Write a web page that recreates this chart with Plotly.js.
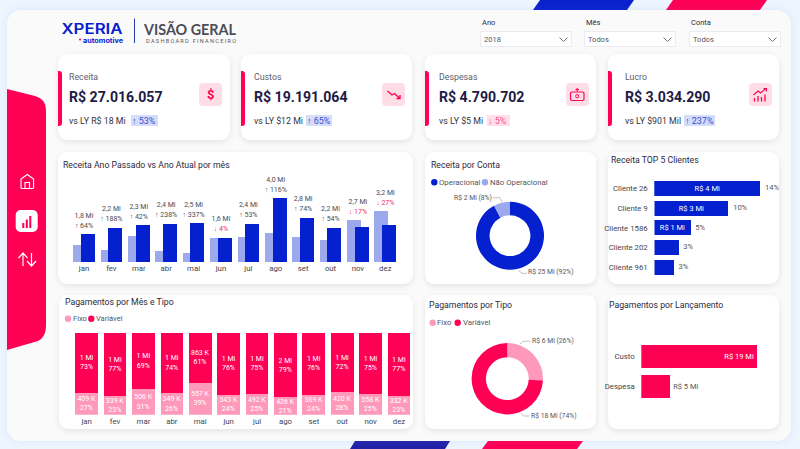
<!DOCTYPE html>
<html><head><meta charset="utf-8">
<script src="https://cdn.plot.ly/plotly-3.0.1.min.js"></script>
<style>
html,body{margin:0;padding:0;width:800px;height:449px;overflow:hidden;background:#EDF5FE;font-family:Roboto,sans-serif}
#bg{position:absolute;left:0;top:0;width:800px;height:449px}
#panel{position:absolute;left:7px;top:10px;width:784px;height:431px;background:#FAFAFB;border-radius:14px;box-shadow:0 0 8px rgba(110,120,220,.12)}
.card{position:absolute;background:#fff;border-radius:9px;box-shadow:0 2px 6px rgba(0,0,0,.09)}
.box{position:absolute;background:#fff;border:1px solid #ececf0;box-sizing:border-box}
#chart{position:absolute;left:0;top:0;width:800px;height:449px}
.abs{position:absolute;white-space:nowrap}
</style></head><body>
<div id="bg"></div>
<div id="chart"></div>
<script>
// ---- data ----
const months=['jan','fev','mar','abr','mai','jun','jul','ago','set','out','nov','dez'];
const receitaAtual=[1.76,2.14,2.30,2.40,2.43,1.49,2.40,4.00,2.77,2.14,2.21,2.33];
const receitaAnterior=[1.07,0.73,1.61,0.69,0.55,1.53,1.55,1.82,1.57,1.38,2.64,3.20];
const receitaRotulo=['1,8 Mi','2,2 Mi','2,3 Mi','2,4 Mi','2,5 Mi','1,6 Mi','2,4 Mi','4,0 Mi','2,8 Mi','2,2 Mi','2,7 Mi','3,2 Mi'];
const receitaVar=[64,188,42,238,337,-4,53,116,74,54,-17,-27];
const pagFixoPct=[27,23,31,26,39,24,25,21,24,28,25,23];
const pagVarPct=[73,77,69,74,61,76,75,79,76,72,75,77];
const pagFixoRot=['409 K','339 K','506 K','349 K','557 K','343 K','492 K','426 K','369 K','420 K','358 K','332 K'];
const pagVarRot=['1 Mi','1 Mi','1 Mi','1 Mi','863 K','1 Mi','1 Mi','2 Mi','1 Mi','1 Mi','1 Mi','1 Mi'];
const contaNomes=['Operacional','Não Operacional'];
const contaValores=[24.9,2.1];
const tipoNomes=['Fixo','Variável'];
const tipoValores=[6.2,17.8];
const clientes=['Cliente 26','Cliente 9','Cliente 1586','Cliente 202','Cliente 961'];
const clienteValores=[3.8,2.66,1.3,0.87,0.7];
const clienteRot=['R$ 4 Mi','R$ 3 Mi','R$ 1 Mi','',''];
const clientePct=['14%','10%','5%','3%','3%'];
const lancamentos=['Custo','Despesa'];
const lancamentoValores=[19.19,4.79];
const lancamentoRot=['R$ 19 Mi','R$ 5 Mi'];
const kpiNomes=['Receita','Custos','Despesas','Lucro'];
const kpiValores=['R$ 27.016.057','R$ 19.191.064','R$ 4.790.702','R$ 3.034.290'];
const kpiAnterior=['vs LY R$ 18 Mi','vs LY $12 Mi','vs LY $5 Mi','vs LY $901 Mil'];
const kpiVar=['↑ 53%','↑ 65%','↓ 5%','↑ 237%'];

// ---- style ----
const RED='#FF0055',PINK='#FF99BB',BLUE='#0520CE',LIGHT='#9CA9EC',INK='#2B2A3E',GREY='#555560',FONT='Roboto, sans-serif';
const X=x=>x/800, Y=y=>1-y/449;

// ---- static page furniture ----
const bg=document.getElementById('bg');
let html='<svg class="abs" style="left:0;top:0" width="800" height="449">'+
 '<polygon points="540,0 634,0 627,10 533,10" fill="#0A22CE"/><polygon points="673,0 767,0 760,10 666,10" fill="'+RED+'"/>'+
 '<polygon points="355,441 450,441 445,449 350,449" fill="#2222A8"/><polygon points="488,441 583,441 577,449 482,449" fill="'+RED+'"/></svg>';
html+='<div id="panel"></div>';
const cards=[[58.3,54,171.4,86],[241,54,171.4,86],[425,54,171,86],[608.3,54,170.7,86],
 [58,152.3,354.7,131.7],[425,152.3,171,131.7],[608.3,152.3,170.7,131.7],
 [58.7,295.3,354.3,133.4],[425,295.3,171,133.4],[608.3,295.3,170.7,133.4]];
cards.forEach(c=>html+=`<div class="card" style="left:${c[0]}px;top:${c[1]}px;width:${c[2]}px;height:${c[3]}px"></div>`);
[[58.3],[241],[425],[608.3]].forEach(a=>html+=`<div class="abs" style="left:${a[0]}px;top:71px;width:4.2px;height:55px;background:${RED};border-radius:0 3px 3px 0"></div>`);
[[131,26.5,'#D6DDF9'],[306,26,'#D6DDF9'],[487.3,23,'#FFE0EA'],[684.3,30.7,'#D6DDF9']].forEach(p=>html+=`<div class="abs" style="left:${p[0]}px;top:115px;width:${p[1]}px;height:11px;background:${p[2]}"></div>`);
[199.3,382.3,566,749].forEach(t=>html+=`<div class="abs" style="left:${t}px;top:83px;width:22.5px;height:22.5px;background:#FFDDE7;border-radius:4px"></div>`);
[[480,91.7],[584,91.7],[689,91.7]].forEach(b=>html+=`<div class="box" style="left:${b[0]}px;top:31px;width:${b[1]}px;height:15.5px"></div>`);
html+='<svg class="abs" style="left:0;top:0" width="800" height="449" fill="none">'+
 `<path d="M7 89 L35 96 Q46 99 46 110 L46 326 Q46 337 38 341 L7 350 Z" fill="${RED}"/>`+
 '<rect x="15.7" y="210" width="22" height="22" rx="5" fill="#fff"/>'+
 `<rect x="22.3" y="223" width="2" height="5" fill="${RED}"/><rect x="25.8" y="219.5" width="2" height="8.5" fill="${RED}"/><rect x="29.3" y="216" width="2" height="12" fill="${RED}"/>`+
 '<path d="M21 187.5 V179 L27.3 174.5 L33.6 179 V187.5 Q33.6 188.5 32.5 188.5 H22 Q21 188.5 21 187.5 Z M25 188.5 V182.5 H29.5 V188.5" stroke="#fff" stroke-width="1.1"/>'+
 '<path d="M23 266 V253.5 M18.5 258 L23 253 L27.5 258 M31.5 253 V265.5 M27 261 L31.5 266 L36 261" stroke="#fff" stroke-width="1.2"/>'+
 ['M559.5 37.5 L563.5 41.5 L567.5 37.5','M663.5 37.5 L667.5 41.5 L671.5 37.5','M768.5 37.5 L772.5 41.5 L776.5 37.5'].map(d=>`<path d="${d}" stroke="#666" stroke-width=".9"/>`).join('')+
 `<path d="M387.5 91 L392 95 L394.5 93.5 L400 98.5 M400 95 V98.5 H396.5" stroke="${RED}" stroke-width="1.4"/>`+
 `<rect x="570.5" y="92" width="13.5" height="8.5" rx="1.5" stroke="${RED}" stroke-width="1.2"/><circle cx="577.2" cy="96.2" r="1.6" stroke="${RED}"/><path d="M577.2 88 V91.5 M575.4 89.5 H579" stroke="${RED}" stroke-width="1.1"/>`+
 `<path d="M753.5 95 L758 91 L760.5 93 L766 88.5 M763.5 88.5 H766.5 V91.5" stroke="${RED}" stroke-width="1.1"/><path d="M754.5 101.5 V98 M758 101.5 V96 M761.5 101.5 V97 M765 101.5 V94.5" stroke="${RED}" stroke-width="1.3"/>`+
 '<rect x="134" y="18.5" width="1" height="24.5" fill="#2A3DB8"/>'+
 `<text x="61.5" y="34" font-family="Inter,Roboto" font-weight="600" font-size="14" fill="${BLUE}" textLength="61" lengthAdjust="spacingAndGlyphs">XPERIA</text>`+
 `<circle cx="80" cy="39.5" r="1" fill="${RED}"/><text x="83" y="42.5" font-family="Inter,Roboto" font-weight="700" font-size="6.5" fill="${BLUE}" textLength="40" lengthAdjust="spacingAndGlyphs">automotive</text>`+
 '<text x="144" y="35" font-family="Lato,Roboto" font-weight="700" font-size="15" fill="#4C4C54" textLength="92" lengthAdjust="spacingAndGlyphs">VISÃO GERAL</text>'+
 '<text x="146" y="43" font-family="Roboto" font-size="5.6" fill="#55555E" textLength="90" lengthAdjust="spacing">DASHBOARD FINANCEIRO</text>'+
 '</svg>';
bg.innerHTML=html;

// ---- text + shapes helpers ----
const ann=[],shp=[];
function T(x,y,t,size,color,anchor,bold){ann.push({xref:'paper',yref:'paper',x:X(x),y:Y(y),text:bold?'<b>'+t+'</b>':t,showarrow:false,xanchor:anchor||'left',yanchor:'middle',borderpad:0,borderwidth:0,font:{family:FONT,size:size,color:color}});}
function Dot(x,y,c){shp.push({type:'circle',xref:'paper',yref:'paper',x0:X(x-3.2),x1:X(x+3.2),y0:Y(y+3.2),y1:Y(y-3.2),fillcolor:c,line:{width:0}});}
function Lead(pts){pts.slice(1).forEach((p,i)=>shp.push({type:'line',xref:'paper',yref:'paper',x0:X(pts[i][0]),y0:Y(pts[i][1]),x1:X(p[0]),y1:Y(p[1]),line:{color:'#A8A8B0',width:.7}}));}

// titles
T(62.5,165,'Receita Ano Passado vs Ano Atual por mês',8.7,INK);
T(64.5,302,'Pagamentos por Mês e Tipo',8.7,INK);
T(430.5,165,'Receita por Conta',8.7,INK);
T(610.5,159.7,'Receita TOP 5 Clientes',8.7,INK);
T(428.7,304.7,'Pagamentos por Tipo',8.7,INK);
T(609,304.7,'Pagamentos por Lançamento',8.7,INK);
// filters
T(481.7,23,'Ano',7.5,INK);T(586,23,'Mês',7.5,INK);T(691,23,'Conta',7.5,INK);
T(484,39,'2018',7.5,GREY);T(588,39,'Todos',7.5,GREY);T(693,39,'Todos',7.5,GREY);
// kpis
[68.7,253.7,439.3,625].forEach((x,i)=>{
 T(x,77,kpiNomes[i],8.8,'#5E5E6C');
 T(x-.2,97,kpiValores[i],14.1,'#1E1B46','left',true);
 T(x,120.7,kpiAnterior[i],8.8,'#33333D');
});
[[131.5,0],[306.5,1],[488,2],[685,3]].forEach(p=>T(p[0],120.7,kpiVar[p[1]],9,p[1]==2?'#FF4D82':'#3A50D8'));
T(210.5,94.5,'$',13,RED,'center',true);
// legends
Dot(68,318.7,PINK);T(72.7,318.7,'Fixo',7.5,GREY);Dot(91.3,318.7,RED);T(96,318.7,'Variável',7.5,GREY);
Dot(434.3,182.3,BLUE);T(439,182.3,contaNomes[0],7.8,GREY);Dot(485,182.3,LIGHT);T(490,182.3,contaNomes[1],7.8,GREY);
Dot(432.7,322.7,PINK);T(437,322.7,tipoNomes[0],7.8,GREY);Dot(457.7,322.7,RED);T(462.7,322.7,tipoNomes[1],7.8,GREY);
// donut labels
T(472.7,197.7,'R$ 2 Mi (8%)',6.8,GREY,'center');Lead([[492.7,197.7],[500,197.7],[502,202]]);
T(550.7,272.3,'R$ 25 Mi (92%)',6.8,GREY,'center');Lead([[518.5,270.5],[522,273.3],[527,273.3]]);
T(553,341.3,'R$ 6 Mi (26%)',6.8,GREY,'center');Lead([[520,344],[523,341.3],[530,341.3]]);
T(553.5,416,'R$ 18 Mi (74%)',6.8,GREY,'center');Lead([[520.7,413],[523.5,416],[529.5,416]]);

// ---- traces ----
const tick={family:FONT,size:7.8,color:'#44444E'};
const hidden={visible:false,fixedrange:true};
const catAxis=(dom,anchor)=>({domain:dom,anchor:anchor,type:'category',showgrid:false,zeroline:false,showline:false,ticks:'',tickfont:tick,fixedrange:true,range:[-.5,11.5],categoryorder:'array',categoryarray:months,automargin:false});
const barTop=receitaAtual.map((v,i)=>Math.max(v,receitaAnterior[i]));
const traces=[
 {type:'bar',x:months,y:receitaAnterior,base:0,xaxis:'x',yaxis:'y',width:.51,offset:-.395,marker:{color:LIGHT},hoverinfo:'skip',name:'Ano Passado',showlegend:false},
 {type:'bar',x:months,y:receitaAtual,base:0,xaxis:'x',yaxis:'y',width:.51,offset:-.115,marker:{color:BLUE},hoverinfo:'skip',name:'Ano Atual',showlegend:false},
 {type:'scatter',mode:'markers+text',x:months,y:barTop,xaxis:'x',yaxis:'y',text:receitaVar.map(v=>v<0?`↓ ${-v}%`:`↑ ${v}%`),textposition:'top center',marker:{size:6,opacity:0},textfont:{family:FONT,size:7,color:receitaVar.map(v=>v<0?'#F0305F':'#4A4A55')},hoverinfo:'skip',showlegend:false,cliponaxis:false},
 {type:'scatter',mode:'markers+text',x:months,y:barTop,xaxis:'x',yaxis:'y',text:receitaRotulo,textposition:'top center',marker:{size:22,opacity:0},textfont:{family:FONT,size:7,color:'#4A4A55'},hoverinfo:'skip',showlegend:false,cliponaxis:false},

 {type:'bar',x:months,y:pagFixoPct,xaxis:'x2',yaxis:'y2',width:.8,marker:{color:PINK},text:pagFixoRot.map((r,i)=>r+'<br>'+pagFixoPct[i]+'%'),textposition:'inside',insidetextanchor:'middle',textangle:0,constraintext:'none',insidetextfont:{family:FONT,size:7,color:'#fff'},hoverinfo:'skip',name:'Fixo',showlegend:false},
 {type:'bar',x:months,y:pagVarPct,xaxis:'x2',yaxis:'y2',width:.8,marker:{color:RED},text:pagVarRot.map((r,i)=>r+'<br>'+pagVarPct[i]+'%'),textposition:'inside',insidetextanchor:'middle',textangle:0,constraintext:'none',insidetextfont:{family:FONT,size:7,color:'#fff'},hoverinfo:'skip',name:'Variável',showlegend:false},

 {type:'bar',orientation:'h',y:clientes,x:clienteValores,xaxis:'x3',yaxis:'y3',width:.76,marker:{color:BLUE},text:clienteRot,textposition:'inside',insidetextanchor:'middle',textangle:0,constraintext:'none',insidetextfont:{family:FONT,size:7.5,color:'#fff'},hoverinfo:'skip',showlegend:false},
 {type:'scatter',mode:'markers+text',y:clientes,x:clienteValores,xaxis:'x3',yaxis:'y3',text:clientePct,textposition:'middle right',marker:{size:6,opacity:0},textfont:{family:FONT,size:7.5,color:GREY},hoverinfo:'skip',showlegend:false,cliponaxis:false},

 {type:'bar',orientation:'h',y:lancamentos,x:lancamentoValores,xaxis:'x4',yaxis:'y4',width:.74,marker:{color:RED},text:lancamentoRot,textposition:['inside','outside'],insidetextanchor:'end',textangle:0,constraintext:'none',insidetextfont:{family:FONT,size:7.5,color:'#fff'},outsidetextfont:{family:FONT,size:7.5,color:GREY},cliponaxis:false,hoverinfo:'skip',showlegend:false},

 {type:'pie',labels:contaNomes,values:contaValores,hole:.6,sort:false,direction:'clockwise',rotation:0,textinfo:'none',hoverinfo:'skip',marker:{colors:[BLUE,LIGHT],line:{width:0}},showlegend:false,domain:{x:[X(510-34),X(510+34)],y:[Y(235.7+34),Y(235.7-34)]}},
 {type:'pie',labels:tipoNomes,values:tipoValores,hole:.6,sort:false,direction:'clockwise',rotation:0,textinfo:'none',hoverinfo:'skip',marker:{colors:[PINK,RED],line:{width:0}},showlegend:false,domain:{x:[X(507.3-35.7),X(507.3+35.7)],y:[Y(378.7+35.7),Y(378.7-35.7)]}}
];
const dy=(top,bot)=>[Y(bot),Y(top)];
const hCat=(dom,anchor,cats)=>({domain:dom,anchor:anchor,type:'category',categoryorder:'array',categoryarray:cats,autorange:'reversed',showgrid:false,zeroline:false,showline:false,ticks:'outside',ticklen:4,tickcolor:'rgba(0,0,0,0)',tickfont:tick,fixedrange:true,automargin:false});
const layout={width:800,height:449,margin:{l:0,r:0,t:0,b:0},paper_bgcolor:'rgba(0,0,0,0)',plot_bgcolor:'rgba(0,0,0,0)',barmode:'stack',showlegend:false,hovermode:false,
 font:{family:FONT},annotations:ann,shapes:shp,
 xaxis:catAxis([X(70.3),X(399)],'y'),
 yaxis:Object.assign({domain:dy(170,262),anchor:'x',range:[0,5.786]},hidden),
 xaxis2:catAxis([X(72.5),X(413.2)],'y2'),
 yaxis2:Object.assign({domain:dy(332.7,414.7),anchor:'x2',range:[0,100]},hidden),
 xaxis3:Object.assign({domain:[X(654.3),X(775)],anchor:'y3',range:[0,4.33]},hidden),
 yaxis3:hCat(dy(178.4,277.2),'x3',clientes),
 xaxis4:Object.assign({domain:[X(641.3),X(775)],anchor:'y4',range:[0,22.2]},hidden),
 yaxis4:hCat(dy(341.4,401.5),'x4',lancamentos)
};
Plotly.newPlot('chart',traces,layout,{displayModeBar:false,staticPlot:true});
</script>
</body></html>
